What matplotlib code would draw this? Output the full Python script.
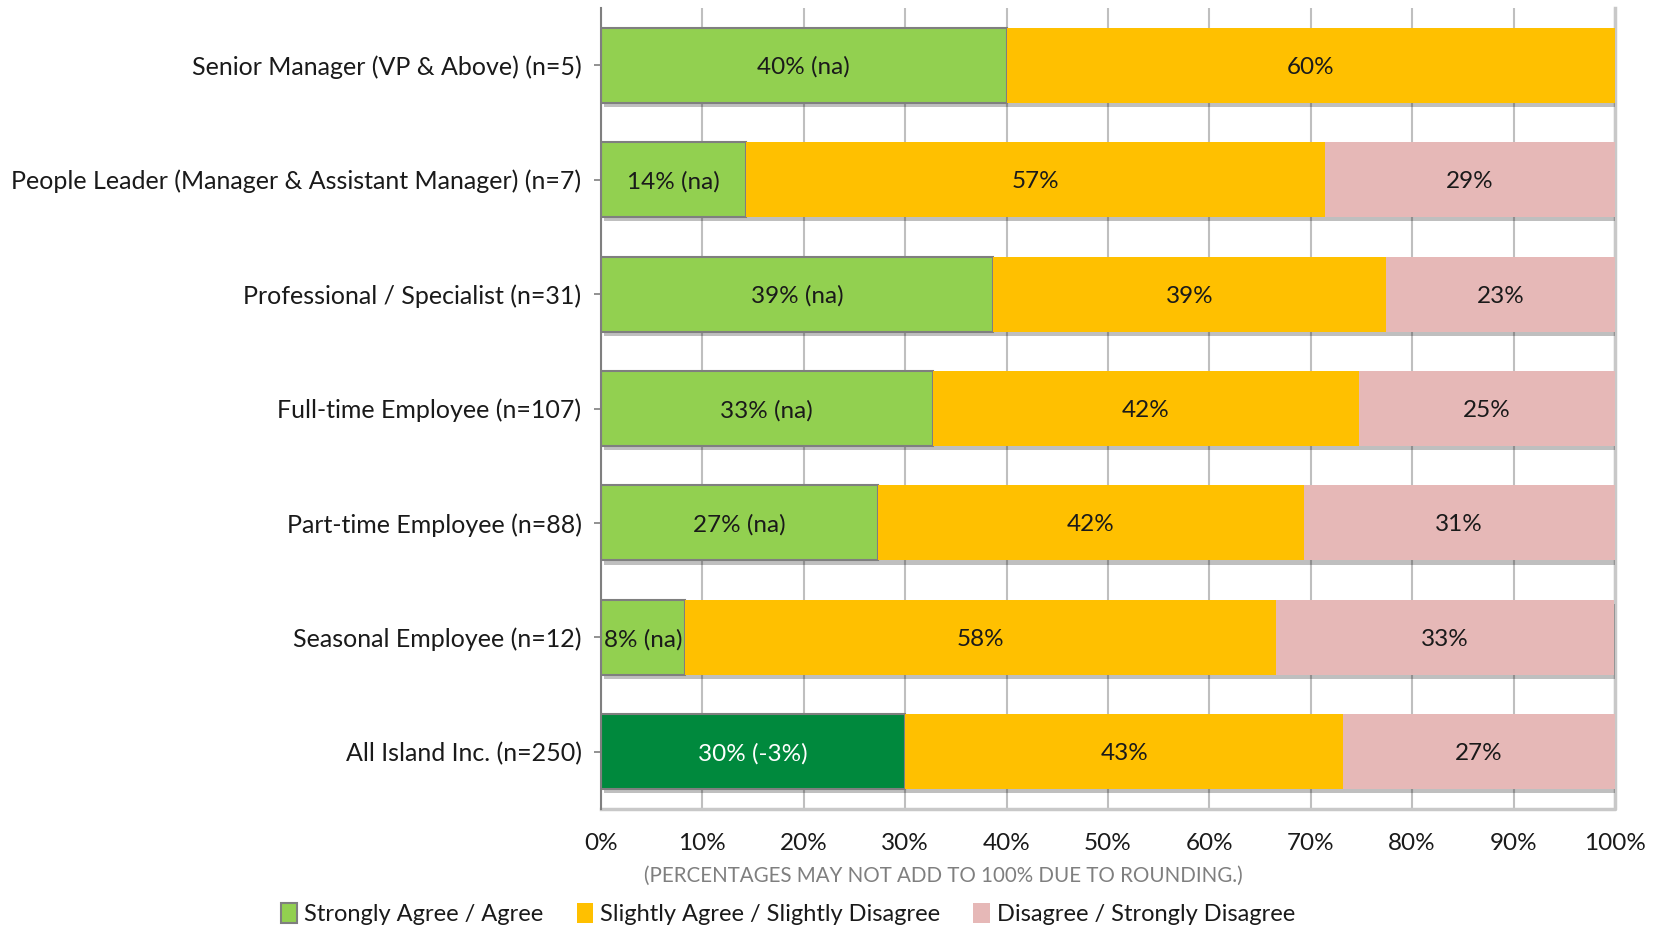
import matplotlib
matplotlib.use("Agg")
import matplotlib.pyplot as plt
import matplotlib.patheffects as pe
from matplotlib.patches import Patch

plt.rcParams['font.family'] = ['Lato', 'DejaVu Sans']

# response groups, top to bottom
groups = [
    "Senior Manager (VP & Above) (n=5)",
    "People Leader (Manager & Assistant Manager) (n=7)",
    "Professional / Specialist (n=31)",
    "Full-time Employee (n=107)",
    "Part-time Employee (n=88)",
    "Seasonal Employee (n=12)",
    "All Island Inc. (n=250)",
]
agree = [40.0, 14.3, 38.7, 32.7, 27.3, 8.3, 30.0]
neutral = [60.0, 57.1, 38.7, 42.1, 42.0, 58.3, 43.2]
disagree = [0.0, 28.6, 22.6, 25.2, 30.7, 33.3, 26.8]
agree_notes = ["(na)", "(na)", "(na)", "(na)", "(na)", "(na)", "(-3%)"]

series_names = ["Strongly Agree / Agree", "Slightly Agree / Slightly Disagree",
                "Disagree / Strongly Disagree"]
c_agree = "#92D050"
c_total = "#00893D"
c_neutral = "#FFC000"
c_disagree = "#E6B8B7"
fs = 17.5

fig = plt.figure(figsize=(16.63, 9.31), dpi=100)
ax = fig.add_axes([0.3614, 0.131, 0.6097, 0.8604])

ypos = list(range(len(groups)))
h = 0.655
shadow = [pe.SimplePatchShadow(offset=(2, -3), shadow_rgbFace="#000000", alpha=0.25), pe.Normal()]

agree_colors = [c_agree] * (len(groups) - 1) + [c_total]
b1 = ax.barh(ypos, agree, height=h, color=agree_colors, edgecolor="#7F7F7F", linewidth=1.5, zorder=3)
b2 = ax.barh(ypos, neutral, left=agree, height=h, color=c_neutral, linewidth=0, zorder=3)
left3 = [a + n for a, n in zip(agree, neutral)]
b3 = ax.barh(ypos, disagree, left=left3, height=h, color=c_disagree, linewidth=0, zorder=3)
for bars in (b1, b2, b3):
    for p in bars:
        p.set_path_effects(shadow)

for i in ypos:
    txt_col = "white" if i == len(groups) - 1 else "#1a1a1a"
    ax.text(agree[i] / 2, i, f"{agree[i]:.0f}% {agree_notes[i]}", ha="center", va="center_baseline",
            fontsize=fs, color=txt_col, zorder=5)
    ax.text(agree[i] + neutral[i] / 2, i, f"{neutral[i]:.0f}%", ha="center", va="center_baseline",
            fontsize=fs, color="#1a1a1a", zorder=5)
    if disagree[i] > 0:
        ax.text(left3[i] + disagree[i] / 2, i, f"{disagree[i]:.0f}%", ha="center", va="center_baseline",
                fontsize=fs, color="#1a1a1a", zorder=5)

ax.set_xlim(0, 100)
ax.set_ylim(len(groups) - 0.5, -0.5)
ax.set_xticks(range(0, 101, 10))
ax.set_xticklabels([f"{v}%" for v in range(0, 101, 10)], fontsize=fs, color="#1a1a1a")
ax.set_yticks(ypos)
ax.set_yticklabels(groups, fontsize=18, color="#1a1a1a")
ax.tick_params(axis="y", direction="inout", length=10, width=1.2, color="#7F7F7F", pad=9)
ax.tick_params(axis="x", length=0, pad=17)
ax.grid(axis="x", color="#BFBFBF", linewidth=1.5, zorder=0)

for s in ("top", "right", "bottom"):
    ax.spines[s].set_visible(False)
ax.spines["left"].set_color("#7F7F7F")
ax.spines["left"].set_linewidth(1.5)
ax.spines["left"].set_zorder(4)
# faint shadow along the plot area's lower and right edges
ax.plot([0, 100, 100], [6.5, 6.5, -0.5], color="#C8C8C8", linewidth=2.5, zorder=2, clip_on=False)

fig.text(0.567, 1 - 876 / 931, "(PERCENTAGES MAY NOT ADD TO 100% DUE TO ROUNDING.)",
         ha="center", va="center", fontsize=14.8, color="#7F7F7F")

handles = [Patch(facecolor=c_agree, edgecolor="#7F7F7F", linewidth=1.5),
           Patch(facecolor=c_neutral), Patch(facecolor=c_disagree)]
fig.legend(handles, series_names, ncol=3, loc="center", bbox_to_anchor=(788 / 1663, 1 - 914 / 931),
           frameon=False, fontsize=17, handlelength=0.7, handleheight=0.9, handletextpad=0.3,
           columnspacing=1.4, labelcolor="#1a1a1a")

fig.savefig("out.png", dpi=100)
